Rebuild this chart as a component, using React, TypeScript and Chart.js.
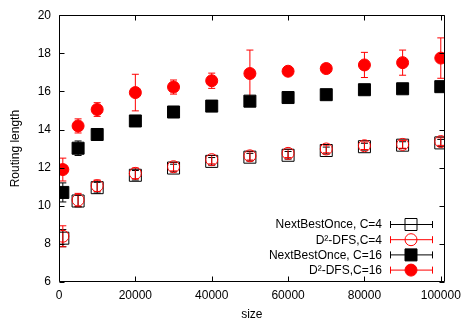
import React, { useEffect, useRef } from "react";
import { Chart, registerables } from "chart.js";
Chart.register(...registerables);

// ---- data ----
const sizes = [1000, 5000, 10000, 20000, 30000, 40000, 50000, 60000, 70000, 80000, 90000, 100000];

const nboC4 = [8.3, 10.25, 10.95, 11.6, 11.98, 12.33, 12.55, 12.65, 12.9, 13.1, 13.18, 13.3];
const nboC4Err = [0.45, 0.3, 0.28, 0.25, 0.2, 0.2, 0.2, 0.2, 0.18, 0.18, 0.18, 0.18];

const dfsC4 = [8.4, 10.3, 11.05, 11.7, 12.05, 12.42, 12.62, 12.75, 12.98, 13.15, 13.22, 13.37];
const dfsC4Err = [0.55, 0.35, 0.3, 0.28, 0.22, 0.22, 0.22, 0.22, 0.2, 0.2, 0.2, 0.2];

const nboC16 = [10.7, 13.02, 13.74, 14.45, 14.92, 15.23, 15.49, 15.68, 15.83, 16.09, 16.14, 16.25];
const nboC16Err = [0.5, 0.38, 0.3, 0.25, 0.15, 0.15, 0.15, 0.12, 0.12, 0.12, 0.12, 0.12];

const dfsC16 = [11.9, 14.19, 15.05, 15.94, 16.23, 16.56, 16.94, 17.06, 17.2, 17.39, 17.51, 17.75];
const dfsC16Err = [0.6, 0.37, 0.36, 0.96, 0.37, 0.4, 1.23, 0.2, 0.2, 0.66, 0.66, 1.06];

const xTicks = [0, 20000, 40000, 60000, 80000, 100000];
const yTicks = [6, 8, 10, 12, 14, 16, 18, 20];

const seriesNames = ["NextBestOnce, C=4", "D²-DFS,C=4", "NextBestOnce, C=16", "D²-DFS,C=16"];
const seriesValues = [nboC4, dfsC4, nboC16, dfsC16];
const seriesErrors = [nboC4Err, dfsC4Err, nboC16Err, dfsC16Err];

const FONT = "'Liberation Sans', Arial, Helvetica, sans-serif";

const seriesStyles = [
  { color: "#000000", filled: false, shape: "rect" },
  { color: "#ff0000", filled: false, shape: "circle" },
  { color: "#000000", filled: true, shape: "rect" },
  { color: "#ff0000", filled: true, shape: "circle" },
];

export default function App() {
  const ref = useRef<HTMLCanvasElement>(null);

  useEffect(() => {
    document.body.style.margin = "0";
    const canvas = ref.current;
    if (!canvas) return;

    const datasets = seriesValues.map((vals, i) => {
      const st = seriesStyles[i];
      const isRect = st.shape === "rect";
      return {
        label: seriesNames[i],
        data: sizes.map((x, j) => ({ x, y: vals[j] })),
        errors: seriesErrors[i],
        showLine: false,
        pointStyle: st.shape,
        pointRadius: isRect ? 8.5 : 6,
        pointHoverRadius: isRect ? 8.5 : 6,
        pointBorderWidth: 1,
        borderColor: st.color,
        backgroundColor: st.filled ? st.color : "rgba(0,0,0,0)",
        pointBackgroundColor: st.filled ? st.color : "rgba(0,0,0,0)",
        pointBorderColor: st.color,
        order: 4 - i,
      };
    });

    const errorBars = {
      id: "errorBars",
      beforeDatasetsDraw(chart: any) {
        const ctx = chart.ctx;
        const xs = chart.scales.x;
        const ys = chart.scales.y;
        ctx.save();
        chart.data.datasets.forEach((ds: any) => {
          ctx.strokeStyle = ds.borderColor;
          ctx.lineWidth = 1;
          ds.data.forEach((p: any, j: number) => {
            const e = ds.errors[j];
            const px = xs.getPixelForValue(p.x);
            const top = ys.getPixelForValue(p.y + e);
            const bot = ys.getPixelForValue(p.y - e);
            ctx.beginPath();
            ctx.moveTo(px, top);
            ctx.lineTo(px, bot);
            ctx.moveTo(px - 3.5, top);
            ctx.lineTo(px + 3.5, top);
            ctx.moveTo(px - 3.5, bot);
            ctx.lineTo(px + 3.5, bot);
            ctx.stroke();
          });
        });
        ctx.restore();
      },
    };

    const frame = {
      id: "frame",
      afterDatasetsDraw(chart: any) {
        const ctx = chart.ctx;
        const a = chart.chartArea;
        const xs = chart.scales.x;
        const ys = chart.scales.y;
        const L = Math.round(a.left) + 0.5;
        const R = Math.round(a.right) - 0.5;
        const T = Math.round(a.top) + 0.5;
        const B = Math.round(a.bottom) - 0.5;
        ctx.save();
        ctx.strokeStyle = "#000";
        ctx.lineWidth = 1;
        ctx.beginPath();
        ctx.rect(L, T, R - L, B - T);
        const tl = 5;
        xTicks.forEach((v) => {
          const x = Math.round(xs.getPixelForValue(v)) + 0.5;
          ctx.moveTo(x, B);
          ctx.lineTo(x, B - tl);
          ctx.moveTo(x, T);
          ctx.lineTo(x, T + tl);
        });
        yTicks.forEach((v) => {
          const y = Math.round(ys.getPixelForValue(v)) + 0.5;
          ctx.moveTo(L, y);
          ctx.lineTo(L + tl, y);
          ctx.moveTo(R, y);
          ctx.lineTo(R - tl, y);
        });
        ctx.stroke();

        // legend
        ctx.font = "12px " + FONT;
        ctx.textAlign = "right";
        ctx.textBaseline = "middle";
        seriesNames.forEach((name, i) => {
          const st = seriesStyles[i];
          const y = 224.5 + i * 15.2;
          ctx.fillStyle = "#000";
          ctx.fillText(name, 382, y + 0.5);
          ctx.strokeStyle = st.color;
          ctx.fillStyle = st.color;
          ctx.beginPath();
          ctx.moveTo(390, y);
          ctx.lineTo(433, y);
          ctx.moveTo(390.5, y - 3.5);
          ctx.lineTo(390.5, y + 3.5);
          ctx.moveTo(432.5, y - 3.5);
          ctx.lineTo(432.5, y + 3.5);
          ctx.stroke();
          ctx.beginPath();
          if (st.shape === "rect") {
            ctx.rect(405, y - 6, 12, 12);
          } else {
            ctx.arc(411, y, 6, 0, Math.PI * 2);
          }
          if (st.filled) ctx.fill();
          ctx.stroke();
        });
        ctx.restore();
      },
    };

    const chart = new Chart(canvas, {
      type: "scatter",
      data: { datasets: datasets as any },
      options: {
        animation: false,
        responsive: false,
        maintainAspectRatio: false,
        layout: { padding: { top: 12, right: 19, left: 0, bottom: 0 } },
        plugins: { legend: { display: false }, tooltip: { enabled: false } },
        scales: {
          x: {
            type: "linear",
            min: 0,
            max: 101000,
            grid: { display: false, drawTicks: false },
            border: { display: false },
            afterBuildTicks: (s: any) => {
              s.ticks = xTicks.map((v) => ({ value: v }));
            },
            afterFit: (s: any) => {
              s.height = 40;
            },
            ticks: {
              color: "#000",
              padding: 6,
              maxRotation: 0,
              font: { family: FONT, size: 12 },
              callback: (v: any) => String(v),
            },
            title: {
              display: true,
              text: "size",
              color: "#000",
              font: { family: FONT, size: 12 },
              padding: { top: 0, bottom: 0 },
            },
          },
          y: {
            type: "linear",
            min: 6,
            max: 20,
            grid: { display: false, drawTicks: false },
            border: { display: false },
            afterBuildTicks: (s: any) => {
              s.ticks = yTicks.map((v) => ({ value: v }));
            },
            afterFit: (s: any) => {
              s.width = 59;
            },
            ticks: {
              color: "#000",
              padding: 8,
              font: { family: FONT, size: 12 },
              callback: (v: any) => String(v),
            },
            title: {
              display: true,
              text: "Routing length",
              color: "#000",
              font: { family: FONT, size: 12 },
              padding: { top: 8, bottom: 0 },
            },
          },
        },
      },
      plugins: [errorBars, frame],
    });

    return () => chart.destroy();
  }, []);

  return (
    <div style={{ width: 467, height: 322 }}>
      <canvas ref={ref} width={467} height={322} style={{ display: "block", width: 467, height: 322 }} />
    </div>
  );
}
